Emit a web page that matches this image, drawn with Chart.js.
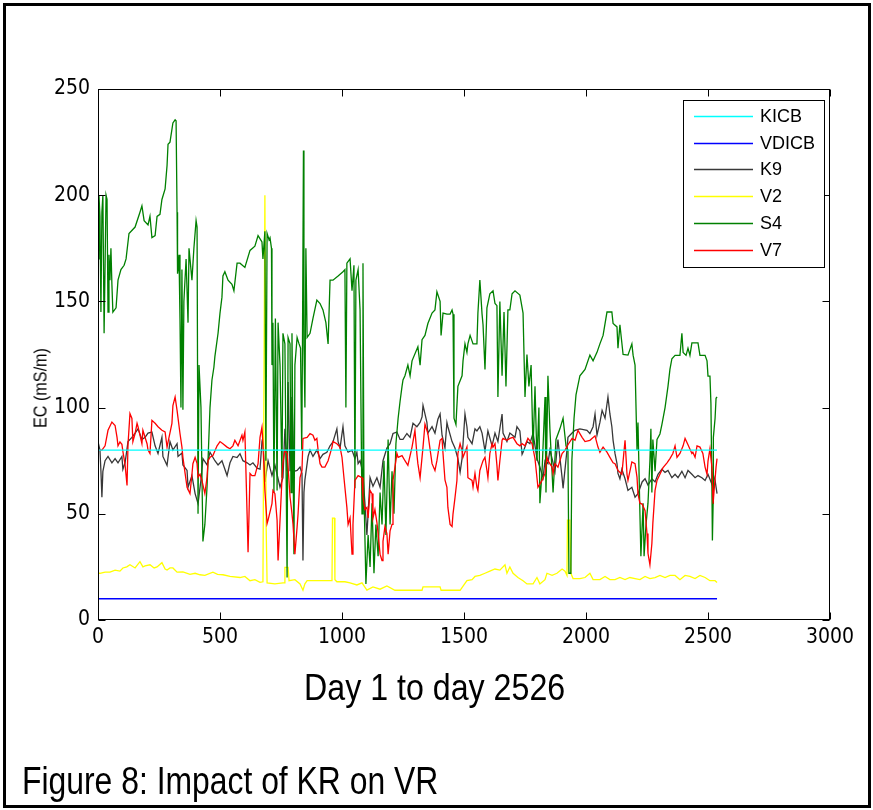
<!DOCTYPE html>
<html>
<head>
<meta charset="utf-8">
<script src="https://cdn.jsdelivr.net/npm/chart.js@4.4.1/dist/chart.umd.min.js"></script>
<style>
  html, body { margin: 0; padding: 0; background: #fff; }
  #page { position: relative; width: 873px; height: 810px; overflow: hidden; background: #fff; }
  #frame { position: absolute; left: 3px; top: 3px; width: 868px; height: 805px; box-sizing: border-box; border: 3px solid #000; }
  #chart { position: absolute; left: 0; top: 0; }
  .txt { position: absolute; white-space: nowrap; line-height: 1; color: #000;
         font-family: 'Liberation Sans', Arial, sans-serif; transform-origin: 0 0; }
</style>
</head>
<body>
<div id="page">
  <div id="frame"></div>
  <canvas id="chart" width="873" height="810"></canvas>
  <div class="txt" id="ylabel" style="font-size:18px">EC (mS/m)</div>
  <div class="txt" id="xcaption" style="font-size:36px">Day 1 to day 2526</div>
  <div class="txt" id="figcaption" style="font-size:38px">Figure 8: Impact of KR on VR</div>
</div>
<script>
const xTicks = [0, 500, 1000, 1500, 2000, 2500, 3000];
const yTicks = [0, 50, 100, 150, 200, 250];
const seriesNames = ['KICB', 'VDICB', 'K9', 'V2', 'S4', 'V7'];
const seriesColors = ['#00ffff', '#0000ff', '#383838', '#ffff00', '#008000', '#ff0000'];

// [day, EC] pairs
const KICB = [[0, 80], [2537, 80]];
const VDICB = [[0, 10], [2537, 10]];

const K9 = [[0,84],[8,80],[12,70],[16,57.8],[20,70],[29,75],[41,77],[57,74],[70,76],[82,74],[98,77],[102,71],[111,74],[123,84],[139,86],[152,88],[164,90],[180,85],[193,86],[205,88],[221,88.5],[234,82],[246,78.4],[262,86],[266,77],[283,72.8],[295,84],[307,80],[324,83],[328,77],[344,78.6],[348,73],[365,70.4],[369,62.5],[385,68],[398,59.5],[410,54.8],[422,66],[430,76],[447,73],[459,79],[479,75],[492,73],[508,75],[529,68],[541,74],[553,77],[570,76.5],[582,78.3],[594,75],[611,74],[623,73],[635,74],[652,71.5],[664,71],[672,84],[676,86],[684,65],[697,75],[713,68],[725,73],[746,62.5],[758,67],[766,90],[775,70],[779,112],[787,70],[795,105],[803,70],[816,70.4],[828,72],[836,69],[840,28],[844,60],[848,66],[861,77],[869,80],[881,77],[897,80],[910,76],[922,78],[938,79],[951,82],[963,83.8],[979,90],[984,84],[992,81],[1004,91],[1012,82],[1025,79],[1041,80],[1053,76],[1061,79],[1066,73.6],[1074,75],[1082,71],[1086,68],[1094,55],[1102,40],[1107,50],[1115,67],[1127,63],[1143,67],[1156,62.5],[1168,75],[1184,81],[1197,83],[1209,87.8],[1225,88.5],[1238,85],[1250,85],[1266,87.8],[1279,86],[1291,92.6],[1307,91],[1320,93],[1328,95.6],[1332,101],[1340,97],[1348,93],[1352,88],[1369,91],[1381,88],[1393,94.5],[1402,97],[1410,87],[1422,81],[1430,93],[1434,91],[1451,84],[1463,81],[1475,76],[1484,69.6],[1492,76],[1504,97],[1512,91],[1516,86],[1533,83],[1545,90],[1553,89],[1565,91],[1574,88],[1586,79.6],[1598,89],[1615,82],[1627,88],[1639,84],[1656,97],[1660,88],[1676,84],[1688,88],[1709,86],[1717,91],[1729,89],[1738,78],[1742,79],[1758,84],[1770,83],[1783,88],[1799,76],[1811,72],[1824,67],[1832,75],[1844,73.6],[1852,80],[1861,76],[1873,70],[1885,85],[1902,67],[1906,62],[1922,80],[1926,86],[1943,88],[1955,89.3],[1975,90],[2004,89.3],[2016,87.8],[2029,91],[2037,97],[2045,87],[2057,93],[2066,98.7],[2078,95],[2090,105],[2098,97],[2106,91],[2111,84.6],[2119,78.3],[2127,73.6],[2131,69],[2139,66.5],[2147,71],[2160,66.5],[2172,61],[2188,62.5],[2201,57.8],[2213,59.5],[2230,65],[2242,66.5],[2254,63.5],[2270,66.5],[2283,65],[2295,68.6],[2311,71],[2324,69.5],[2336,70.4],[2352,67],[2365,68.6],[2377,67],[2393,70],[2406,67],[2418,70.4],[2434,68.6],[2447,67],[2459,68],[2475,67],[2488,65.7],[2500,68.6],[2516,64],[2521,68.6],[2529,65.7],[2537,59.5]];

const V2 = [[0,22],[8,22],[29,22.5],[49,22.5],[70,23.5],[90,23],[102,24.5],[118,25],[131,26],[152,24.5],[172,27.5],[184,25],[193,25.5],[213,26],[230,24.5],[242,25],[262,27],[275,24],[283,23.5],[295,24.5],[307,24.5],[324,22.5],[348,22.6],[377,21.5],[398,22],[418,21.3],[438,21],[471,22.5],[490,21.5],[512,21.3],[541,20.5],[582,20],[602,20.5],[623,18.5],[643,19],[664,17.7],[676,18],[680,108],[684,200],[689,45],[693,17.5],[725,17],[758,17.5],[764,17.5],[766,24.8],[779,24.8],[783,18.5],[807,19],[828,17],[840,14],[848,17],[857,18.5],[889,18.5],[930,18.5],[959,18.5],[961,48],[969,48],[971,19],[979,18],[1012,18],[1033,17.5],[1061,16.5],[1082,17.5],[1102,14.1],[1127,15.6],[1156,14.5],[1184,16],[1217,14],[1258,14],[1299,14],[1328,14],[1332,15.6],[1402,15.6],[1406,14],[1463,14],[1484,14],[1512,18.5],[1533,19],[1545,20.5],[1565,21],[1586,22],[1606,23],[1627,24],[1647,23.5],[1668,26],[1676,22],[1688,25],[1701,22],[1721,20],[1742,18.5],[1758,17],[1783,17],[1799,20],[1811,17],[1832,19],[1840,22],[1861,21],[1881,22],[1902,24],[1914,23],[1922,21],[1924,47],[1934,47],[1938,22],[1947,19.5],[1975,19.5],[1996,20],[2016,22],[2029,19],[2057,19],[2078,20.5],[2098,19],[2119,19],[2139,20],[2160,19],[2180,20],[2201,19.5],[2221,19],[2242,20.5],[2262,19.5],[2283,20],[2303,21],[2324,20],[2344,21],[2365,21],[2385,19],[2406,21],[2426,20.5],[2447,19.5],[2467,21],[2488,20],[2508,18.5],[2529,18.5],[2537,17.7]];

const S4 = [[0,170],[4,200],[8,190],[12,145],[16,192],[20,200],[25,135],[29,167],[33,200],[37,198],[41,145],[45,172],[49,160],[53,175],[57,158],[61,145],[74,147],[82,160],[94,165],[107,167],[115,170],[127,182],[152,185],[172,192],[180,195],[189,188],[205,186],[213,190],[221,180],[234,181],[242,190],[254,191],[262,198],[275,203],[283,214],[287,224],[295,225],[303,231],[307,234],[316,235.5],[320,235],[324,192],[326,163],[328,165],[332,172],[336,142],[340,100],[344,165],[348,99],[352,150],[361,170],[369,140],[373,175],[385,160],[393,175],[402,188],[406,185],[410,50],[414,120],[422,100],[430,37],[438,45],[447,63],[459,100],[467,113],[475,119],[479,124],[492,135],[500,144.5],[508,152],[512,162],[520,164],[533,160],[549,158],[557,155],[570,168],[582,168],[602,166],[623,174],[643,176],[656,181],[672,178],[676,170],[684,183],[688,75],[693,182],[701,179],[705,180],[711,175],[713,120],[717,140],[721,60],[727,142],[734,61],[738,140],[746,120],[754,67],[758,135],[766,130],[775,20],[779,133],[787,130],[791,60],[795,135],[803,31],[807,120],[816,133],[824,130],[830,128],[835,80],[838,130],[842,221],[844,130],[848,100],[852,175],[857,133],[869,135],[881,142],[897,150.6],[910,149],[922,146],[934,140],[943,130],[951,160],[963,160],[984,162],[1004,164],[1012,165],[1016,100],[1020,168],[1033,170],[1041,155],[1049,167],[1053,62],[1057,160],[1066,165],[1074,146],[1082,50],[1086,168],[1090,60],[1098,17],[1107,40],[1115,25],[1123,55],[1131,22],[1139,45],[1148,30],[1156,60],[1164,45],[1172,75],[1180,40],[1189,85],[1197,45],[1205,70],[1213,50],[1221,83],[1230,95],[1238,103],[1246,110],[1250,113],[1258,115],[1270,120],[1279,115],[1287,122],[1311,128.6],[1320,120],[1328,132],[1340,134],[1352,139.6],[1369,144.5],[1381,146],[1389,154.5],[1402,150],[1406,134],[1414,144.5],[1430,144],[1443,144],[1451,146],[1455,144],[1459,95],[1467,92],[1475,110],[1492,115],[1496,122],[1504,130],[1512,126],[1516,130],[1525,134],[1537,130],[1553,130],[1557,144.5],[1565,160],[1574,144],[1578,139],[1586,118],[1594,147],[1606,153.6],[1619,155],[1627,149],[1635,148],[1639,105],[1647,150],[1656,115],[1664,145],[1672,110],[1680,146],[1688,146],[1697,153.6],[1709,155],[1729,153],[1742,144.5],[1750,105],[1758,125],[1766,110],[1775,120],[1783,80],[1791,110],[1799,75],[1807,100],[1811,55],[1820,70],[1832,105],[1836,60],[1844,115],[1852,90],[1865,60],[1877,85],[1893,90],[1906,95],[1918,82],[1926,80],[1930,22],[1938,22],[1942,75],[1951,95],[1959,106],[1975,115],[1996,118],[2016,124.7],[2029,122],[2045,126],[2057,130],[2070,134],[2086,145],[2106,145],[2111,139.6],[2127,138],[2131,128],[2139,139],[2152,125],[2172,124.7],[2188,130],[2193,124.7],[2201,120],[2209,80],[2213,93],[2221,50],[2225,30],[2234,55],[2238,30],[2246,45],[2254,55],[2262,75],[2266,90],[2270,60],[2274,85],[2283,70],[2291,85],[2303,87.6],[2311,92],[2324,100],[2336,110],[2344,118],[2352,123],[2365,124.6],[2385,124.6],[2393,135],[2398,126],[2410,124.6],[2418,128],[2426,124.6],[2434,130.5],[2459,130.5],[2467,124.6],[2488,124.6],[2496,122],[2500,114.8],[2508,114.8],[2512,102],[2516,62.6],[2518,37.4],[2521,55],[2522,86],[2529,95],[2533,104.4],[2537,105]];

const V7 = [[0,80],[16,80],[29,82],[41,89.3],[57,93.2],[70,91.6],[78,86],[82,82],[90,83.8],[98,82.7],[102,79.4],[111,73],[119,63.3],[123,82.7],[131,97.2],[139,94.9],[143,84],[152,87.8],[160,92.6],[164,91],[180,83],[184,89.3],[201,83],[205,80],[213,78.4],[221,94],[234,92.6],[246,91],[262,89.3],[275,88.5],[283,81.4],[287,83.8],[303,92.6],[307,101],[316,105],[324,98.7],[336,87.8],[344,81.4],[348,76.6],[357,69],[365,62.5],[377,59.5],[385,68.6],[389,73.6],[398,76.6],[406,73.6],[410,67.3],[418,68.6],[426,65.7],[438,59.5],[447,67.3],[451,75],[459,76.6],[471,77.4],[488,82],[500,84],[512,83],[529,81.4],[541,80.6],[553,82],[561,84.6],[574,82],[590,87],[594,84.6],[602,88.5],[611,50],[615,31.9],[619,50],[623,69],[631,68],[643,68],[656,73.6],[664,86],[672,90.8],[676,83],[684,61],[693,45.4],[697,47],[713,54.8],[717,61],[725,59.5],[734,47],[738,28],[746,47],[754,66.5],[758,74],[766,80],[775,78.4],[779,72],[787,58],[795,50],[799,45.4],[807,31],[816,43.8],[820,50],[828,67],[836,70.4],[840,85.5],[857,86],[869,87.8],[881,87],[889,84.6],[897,85.5],[902,80],[910,73.6],[918,72],[930,72],[943,75],[959,81.4],[963,84],[979,83],[992,81.4],[1000,76.6],[1008,67],[1020,53],[1025,45],[1033,48],[1041,31],[1045,45],[1053,65.7],[1066,68],[1082,67],[1086,58],[1094,52],[1102,53],[1107,48],[1115,61],[1123,59.5],[1127,48],[1135,52],[1143,46],[1148,40.7],[1156,31],[1164,28],[1168,37],[1176,44],[1184,40.7],[1189,31],[1197,42],[1205,45],[1209,65.7],[1217,72],[1225,78.4],[1230,76.6],[1246,77.4],[1258,75],[1270,72.8],[1287,81.4],[1299,89.3],[1307,78],[1311,73.6],[1320,67],[1332,81.4],[1340,92.2],[1352,87.8],[1369,73.6],[1381,70.4],[1389,75],[1402,84.6],[1410,85.5],[1414,78.4],[1422,66],[1430,62.5],[1434,53],[1443,45],[1451,44],[1455,50],[1463,57.5],[1471,65.7],[1475,78.4],[1484,83],[1492,79.6],[1496,76.6],[1512,81.4],[1516,67],[1533,65.7],[1537,62.5],[1545,69],[1553,62.5],[1557,61],[1565,70.4],[1574,73.6],[1578,75],[1586,76.6],[1594,70.4],[1598,67],[1606,78.4],[1615,83],[1619,81.4],[1627,83],[1635,72.8],[1639,65.7],[1647,75],[1656,84.6],[1660,85.5],[1676,84.6],[1688,85.5],[1701,86],[1717,83],[1729,82],[1738,83],[1750,82],[1762,85.5],[1779,83],[1791,76],[1799,67],[1803,62.5],[1820,65.7],[1832,69],[1840,76.6],[1844,75],[1861,72],[1865,69],[1873,73.6],[1885,72],[1902,78.4],[1914,80],[1926,82.5],[1943,85.5],[1955,84.6],[1967,89.3],[1984,86],[1996,84],[2016,84.6],[2037,86.7],[2049,81.4],[2057,79],[2070,81.4],[2086,79],[2098,76.6],[2111,74],[2119,73.6],[2131,70.4],[2147,68.6],[2152,74.8],[2160,84.6],[2168,68.6],[2172,65.7],[2188,74.4],[2201,73.6],[2209,67.3],[2213,59.5],[2221,55],[2230,54.6],[2242,51.5],[2250,40.7],[2254,31.4],[2262,26],[2270,36],[2274,45.6],[2283,61],[2291,65.7],[2303,68.6],[2315,71.6],[2332,74],[2344,76],[2356,78.4],[2365,82],[2373,76.6],[2385,78.4],[2398,82],[2406,85.5],[2418,82.5],[2434,78.4],[2438,79],[2447,76.6],[2455,82],[2467,81.4],[2479,78.4],[2488,72],[2496,68.6],[2500,74.8],[2508,80.6],[2516,72],[2521,54.8],[2525,61],[2533,72],[2537,76]];

const seriesData = [KICB, VDICB, K9, V2, S4, V7];
// drawing order: lower number ends up on top
const seriesOrder = [0, 5, 4, 3, 2, 1];

const tickFont = { family: "'Liberation Sans Narrow', 'DejaVu Sans Condensed', 'Liberation Sans', sans-serif", size: 21 };

// MATLAB style box, inward ticks and boxed legend
const matlabAxes = {
  id: 'matlabAxes',
  afterDatasetsDraw(chart) {
    const { ctx, chartArea: a, scales: { x, y } } = chart;
    const L = Math.round(a.left) + 0.5, R = Math.round(a.right) - 0.5;
    const T = Math.round(a.top) + 0.5, B = Math.round(a.bottom) - 0.5;
    ctx.save();
    ctx.strokeStyle = '#000';
    ctx.lineWidth = 1;
    ctx.beginPath();
    for (const t of x.ticks) {
      const px = Math.round(x.getPixelForValue(t.value)) + 0.5;
      ctx.moveTo(px, B); ctx.lineTo(px, B - 7);
      ctx.moveTo(px, T); ctx.lineTo(px, T + 7);
    }
    for (const t of y.ticks) {
      const py = Math.round(y.getPixelForValue(t.value)) + 0.5;
      ctx.moveTo(L, py); ctx.lineTo(L + 7, py);
      ctx.moveTo(R, py); ctx.lineTo(R - 7, py);
    }
    ctx.stroke();
    ctx.strokeRect(L, T, R - L, B - T);

    // legend box
    const bx = 683.5, by = 100.5, bw = 141, bh = 167;
    ctx.fillStyle = '#fff';
    ctx.fillRect(bx, by, bw, bh);
    ctx.strokeRect(bx, by, bw, bh);
    ctx.font = "18px 'Liberation Sans', Arial, sans-serif";
    ctx.textBaseline = 'middle';
    ctx.textAlign = 'left';
    chart.data.datasets.forEach((ds, i) => {
      const ry = Math.round(115.7 + i * 26.85) + 0.5;
      ctx.strokeStyle = ds.borderColor;
      ctx.lineWidth = 1.5;
      ctx.beginPath();
      ctx.moveTo(694, ry); ctx.lineTo(753, ry);
      ctx.stroke();
      ctx.fillStyle = '#000';
      ctx.fillText(ds.label, 760, ry + 1);
    });
    ctx.restore();
  }
};

const datasets = seriesNames.map((name, i) => ({
  label: name,
  data: seriesData[i].map(([d, v]) => ({ x: d, y: v })),
  borderColor: seriesColors[i],
  backgroundColor: seriesColors[i],
  borderWidth: 1.3,
  pointRadius: 0,
  tension: 0,
  fill: false,
  order: seriesOrder[i]
}));

new Chart(document.getElementById('chart').getContext('2d'), {
  type: 'line',
  data: { datasets },
  options: {
    responsive: false,
    animation: false,
    events: [],
    layout: { padding: { left: 0, top: 89, right: 43, bottom: 150 } },
    plugins: { legend: { display: false }, tooltip: { enabled: false } },
    scales: {
      x: {
        type: 'linear',
        min: 0, max: 3000,
        afterBuildTicks: s => { s.ticks = xTicks.map(v => ({ value: v })); },
        afterFit: s => { s.height = 40; },
        grid: { display: false, drawTicks: false },
        border: { display: false },
        ticks: { color: '#000', font: tickFont, padding: 5, maxRotation: 0, callback: v => String(v) }
      },
      y: {
        type: 'linear',
        min: 0, max: 250,
        afterBuildTicks: s => { s.ticks = yTicks.map(v => ({ value: v })); },
        afterFit: s => { s.width = 98; },
        grid: { display: false, drawTicks: false },
        border: { display: false },
        ticks: { color: '#000', font: tickFont, padding: 8, callback: v => String(v) }
      }
    }
  },
  plugins: [matlabAxes]
});

// squeeze captions to the narrow look of the figure
function fitText(id, left, top, width) {
  const el = document.getElementById(id);
  el.style.left = left + 'px';
  el.style.top = top + 'px';
  el.style.transform = 'scaleX(' + (width / el.offsetWidth) + ')';
}
function fitVertical(id, cx, cy, length) {
  const el = document.getElementById(id);
  const w = el.offsetWidth, h = el.offsetHeight;
  el.style.left = (cx - w / 2) + 'px';
  el.style.top = (cy - h / 2) + 'px';
  el.style.transformOrigin = '50% 50%';
  el.style.transform = 'rotate(-90deg) scaleX(' + (length / w) + ')';
}
document.fonts.ready.then(() => {
  fitText('xcaption', 304, 670, 261);
  fitText('figcaption', 22, 762, 416);
  fitVertical('ylabel', 40, 388, 80);
});
</script>
</body>
</html>
